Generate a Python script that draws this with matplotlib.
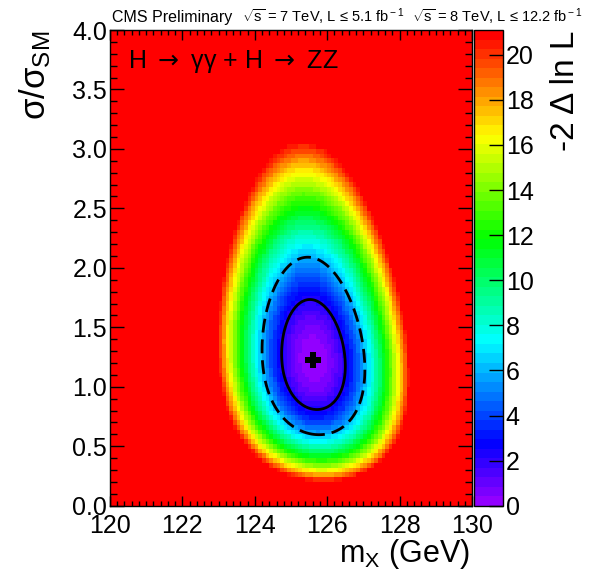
import colorsys

import numpy as np
import matplotlib
matplotlib.use("Agg")
import matplotlib.pyplot as plt
from matplotlib.colors import ListedColormap, Normalize
from matplotlib.ticker import MultipleLocator, FormatStrFormatter

plt.rcParams['font.family'] = ['Liberation Sans', 'DejaVu Sans']
plt.rcParams['mathtext.fontset'] = 'custom'
plt.rcParams['mathtext.rm'] = 'Liberation Sans'
plt.rcParams['mathtext.it'] = 'Liberation Sans:italic'
plt.rcParams['mathtext.bf'] = 'Liberation Sans:bold'

# scan binning (mass in GeV, signal strength)
mass_edges = np.linspace(120.0, 130.0, 101)
mu_edges = np.linspace(0.0, 4.0, 101)

# best fit point and likelihood shape
best_fit = (125.62, 1.225)
sigma_mass = 0.58
sigma_mu = 0.31
sigma_mu_slope_up = 0.05
sigma_mu_slope_down = 0.085
rho = -0.11

contour_levels = [2.30, 5.99]
z_max = 21.1
cbar_ticks = [0, 2, 4, 6, 8, 10, 12, 14, 16, 18, 20]
x_ticks = [120, 122, 124, 126, 128, 130]
y_ticks = [0.0, 0.5, 1.0, 1.5, 2.0, 2.5, 3.0, 3.5, 4.0]


def nll(m, mu):
    """-2 delta ln L on a grid, asymmetric in mu."""
    ux = (m - best_fit[0]) / sigma_mass
    d = mu - best_fit[1]
    s = np.where(d > 0, sigma_mu + sigma_mu_slope_up * d,
                 sigma_mu + sigma_mu_slope_down * d)
    uy = d / s
    return (ux ** 2 - 2 * rho * ux * uy + uy ** 2) / (1 - rho ** 2)


# ROOT "pretty" palette: 50 colours, hue 280 -> 0
pal = [colorsys.hls_to_rgb((280 - (i + 1) * 280 / 50) / 360, 0.5, 1.0)
       for i in range(50)]
cmap = ListedColormap(pal)
cmap.set_over(pal[-1])

fig = plt.figure(figsize=(5.89, 5.71), dpi=100)
ax = fig.add_axes([110 / 589, 1 - 505.7 / 571, 362 / 589, 475.7 / 571])
cax = fig.add_axes([474 / 589, 1 - 505.7 / 571, 29 / 589, 475.7 / 571])

mc = 0.5 * (mass_edges[:-1] + mass_edges[1:])
uc = 0.5 * (mu_edges[:-1] + mu_edges[1:])
M, U = np.meshgrid(mc, uc)
Z = nll(M, U)

mesh = ax.pcolormesh(mass_edges, mu_edges, Z, cmap=cmap,
                     norm=Normalize(0, z_max), shading='flat')

# smooth contours from a finer grid of the same scan
mf = np.linspace(120, 130, 500)
uf = np.linspace(0, 4, 500)
MF, UF = np.meshgrid(mf, uf)
ZF = nll(MF, UF)
ax.contour(MF, UF, ZF, levels=[contour_levels[0]], colors='k',
           linewidths=2.0, linestyles='solid')
ax.contour(MF, UF, ZF, levels=[contour_levels[1]], colors='k',
           linewidths=2.0, linestyles=[(0, (5, 2.5))])

ax.plot([best_fit[0]], [best_fit[1]], marker='P', color='k',
        markersize=12, markeredgewidth=0)

ax.set_xlim(120, 130)
ax.set_ylim(0, 4)
ax.set_xticks(x_ticks)
ax.set_yticks(y_ticks)
ax.xaxis.set_minor_locator(MultipleLocator(0.2))
ax.yaxis.set_minor_locator(MultipleLocator(0.1))
ax.yaxis.set_major_formatter(FormatStrFormatter('%.1f'))
ax.tick_params(which='both', direction='in', top=True, right=True,
               width=1, labelsize=18)
ax.tick_params(axis='x', which='major', length=7.2, pad=6)
ax.tick_params(axis='x', which='minor', length=3.6)
ax.tick_params(axis='y', which='major', length=10, pad=2)
ax.tick_params(axis='y', which='minor', length=5)
for sp in ax.spines.values():
    sp.set_linewidth(1.0)

cb = fig.colorbar(mesh, cax=cax, ticks=cbar_ticks)
cb.ax.tick_params(direction='in', length=10, width=1, labelsize=18, pad=2)
cb.ax.minorticks_off()
cb.outline.set_linewidth(1.0)

# texts
fig.text(128 / 589, 1 - 68 / 571,
         'H $\\rightarrow$ \u03b3\u03b3 + H $\\rightarrow$ ZZ',
         fontsize=18, ha='left', va='baseline', math_fontfamily='dejavusans')
fig.text(112 / 589, 1 - 22 / 571, 'CMS Preliminary', fontsize=11.5,
         ha='left', va='baseline')
fig.text(242 / 589, 1 - 22 / 571,
         '$\\sqrt{\\rm s}$ = 7 TeV, L \u2264 5.1 fb$^{\\rm -1}$',
         fontsize=10.5, ha='left', va='baseline')
fig.text(412 / 589, 1 - 22 / 571,
         '$\\sqrt{\\rm s}$ = 8 TeV, L \u2264 12.2 fb$^{\\rm -1}$',
         fontsize=10.5, ha='left', va='baseline')

fig.text(470 / 589, 1 - 562 / 571, 'm$_{\\rm X}$ (GeV)', fontsize=22,
         ha='right', va='baseline')
fig.text(35 / 589, 1 - 31 / 571, '\u03c3/\u03c3$_{\\rm SM}$',
         fontsize=25, rotation=90, ha='center', va='top')
fig.text(565 / 589, 1 - 31 / 571, '-2 \u0394 ln L', fontsize=24,
         rotation=90, ha='center', va='top')

fig.savefig('out.png', dpi=100)
